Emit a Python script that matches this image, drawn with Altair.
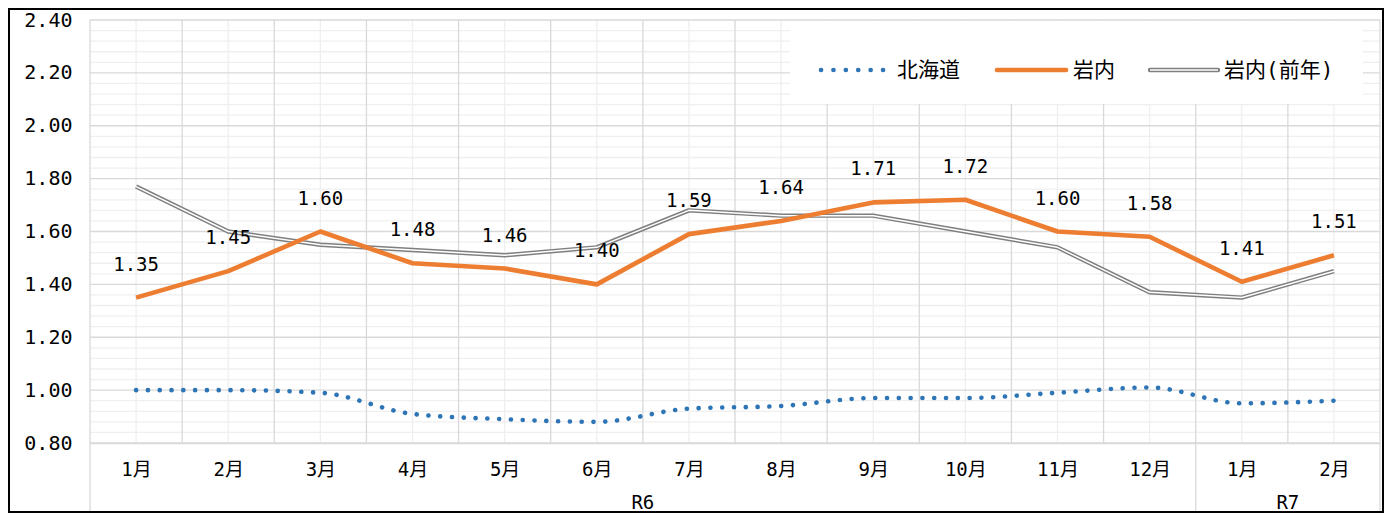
import altair as alt
import pandas as pd

# ---------------- data ----------------
months = ["1月", "2月", "3月", "4月", "5月", "6月", "7月", "8月", "9月", "10月", "11月", "12月", "1月", "2月"]
periods = ["R6"] * 12 + ["R7"] * 2
hokkaido = [1.00, 1.00, 0.99, 0.91, 0.89, 0.88, 0.93, 0.94, 0.97, 0.97, 0.99, 1.01, 0.95, 0.96]
iwanai = [1.35, 1.45, 1.60, 1.48, 1.46, 1.40, 1.59, 1.64, 1.71, 1.72, 1.60, 1.58, 1.41, 1.51]
iwanai_prev = [1.77, 1.60, 1.55, 1.53, 1.51, 1.54, 1.68, 1.66, 1.66, 1.60, 1.54, 1.37, 1.35, 1.45]
series_names = ["北海道", "岩内", "岩内(前年)"]
y_ticks = [0.8, 1.0, 1.2, 1.4, 1.6, 1.8, 2.0, 2.2, 2.4]

# ---------------- layout / style ----------------
W, H = 1290, 423
FONT = "DejaVu Sans Mono, Noto Sans CJK JP"
BLUE, ORANGE, GRAY = "#2E75B6", "#ED7D31", "#7F7F7F"
MAJOR, MINOR = "#d9d9d9", "#efefef"

n = len(months)
df = pd.DataFrame({
    "idx": list(range(n)),
    "month": months,
    "period": periods,
    "hok": hokkaido,
    "iwa": iwanai,
    "prev": iwanai_prev,
})
df["pos"] = df["idx"] + 0.5

groups = df.groupby("period", sort=False).agg(center=("pos", "mean"),
                                               start=("idx", "min"),
                                               end=("idx", "max")).reset_index()
edges = sorted(set(groups["start"].tolist() + (groups["end"] + 1).tolist()))

xscale = alt.Scale(domain=[0, n], nice=False, zero=False)
yscale = alt.Scale(domain=[y_ticks[0], y_ticks[-1]], nice=False, zero=False)

label_expr = "[" + ",".join('"%s"' % m for m in months) + "][floor(datum.value)]"
xaxis = alt.Axis(values=df["pos"].tolist(), labelExpr=label_expr, domain=True,
                 domainColor=MAJOR, domainWidth=1.3, ticks=False, grid=False,
                 title=None, labelFont=FONT, labelFontSize=19, labelColor="black",
                 labelPadding=17, labelAngle=0, labelFlush=False, labelOverlap=False)
yaxis = alt.Axis(values=y_ticks, format=".2f", domain=False, ticks=False, grid=False,
                 title=None, labelFont=FONT, labelFontSize=20, labelColor="black",
                 labelPadding=18)


def X(field):
    return alt.X(field, scale=xscale, axis=xaxis)


def Y(field):
    return alt.Y(field, scale=yscale, axis=yaxis)


# ---------------- grid ----------------
minor_vals = [round(y_ticks[0] + 0.04 * k, 2) for k in range(int(round((y_ticks[-1] - y_ticks[0]) / 0.04)) + 1)]
minor_vals = [v for v in minor_vals if v not in y_ticks]
minor_h = alt.Chart(pd.DataFrame({"v": minor_vals})).mark_rule(color=MINOR, strokeWidth=1.3).encode(
    y=Y("v:Q"))
minor_v = alt.Chart(df).mark_rule(color=MINOR, strokeWidth=1.3).encode(x=X("pos:Q"))
major_h = alt.Chart(pd.DataFrame({"v": y_ticks})).mark_rule(color=MAJOR, strokeWidth=1.3).encode(
    y=Y("v:Q"))
major_v = alt.Chart(pd.DataFrame({"b": list(range(n + 1))})).mark_rule(color=MAJOR, strokeWidth=1.3).encode(
    x=X("b:Q"))
sep = alt.Chart(pd.DataFrame({"b": edges})).mark_rule(color=MAJOR, strokeWidth=1.3).encode(
    x=X("b:Q"), y=alt.value(H), y2=alt.value(H + 68))

# ---------------- series ----------------
base = alt.Chart(df)
hok_line = base.mark_line(color=BLUE, strokeWidth=4.6, strokeDash=[0.1, 11.7], strokeCap="round",
                          interpolate="monotone").encode(x=X("pos:Q"), y=Y("hok:Q"))
prev_outer = base.mark_line(color=GRAY, strokeWidth=4.4, strokeJoin="round").encode(
    x=X("pos:Q"), y=Y("prev:Q"))
prev_inner = base.mark_line(color="white", strokeWidth=1.5, strokeJoin="round").encode(
    x=X("pos:Q"), y=Y("prev:Q"))
iwa_line = base.mark_line(color=ORANGE, strokeWidth=4.6, strokeJoin="round").encode(
    x=X("pos:Q"), y=Y("iwa:Q"))
iwa_labels = base.mark_text(dy=-33, fontSize=19, font=FONT, color="black", baseline="middle").encode(
    x=X("pos:Q"), y=Y("iwa:Q"), text=alt.Text("iwa:Q", format=".2f"))

group_labels = alt.Chart(groups).mark_text(fontSize=19, font=FONT, color="black", baseline="middle").encode(
    x=X("center:Q"), y=alt.value(H + 60), text="period:N")

# ---------------- legend ----------------
one = pd.DataFrame({"k": [0]})
LY = 50
leg_bg = alt.Chart(one).mark_rect(fill="white").encode(
    x=alt.value(700), x2=alt.value(1273), y=alt.value(1), y2=alt.value(84))
leg_hok = alt.Chart(one).mark_rule(color=BLUE, strokeWidth=4.6, strokeDash=[0.1, 12.3], strokeCap="round").encode(
    x=alt.value(731), x2=alt.value(795), y=alt.value(LY))
leg_iwa = alt.Chart(one).mark_rule(color=ORANGE, strokeWidth=4.6, strokeCap="round").encode(
    x=alt.value(907), x2=alt.value(976), y=alt.value(LY))
leg_prev_o = alt.Chart(one).mark_rule(color=GRAY, strokeWidth=4.4, strokeCap="round").encode(
    x=alt.value(1060), x2=alt.value(1128), y=alt.value(LY))
leg_prev_i = alt.Chart(one).mark_rule(color="white", strokeWidth=1.5).encode(
    x=alt.value(1060), x2=alt.value(1128), y=alt.value(LY))
leg_text = []
for name, lx in zip(series_names, [807, 983, 1134]):
    leg_text.append(alt.Chart(pd.DataFrame({"name": [name]})).mark_text(
        align="left", baseline="middle", fontSize=21, font=FONT, color="black").encode(
        x=alt.value(lx), y=alt.value(LY + 1), text="name:N"))

frame = alt.Chart(one).mark_rect(fill="transparent", stroke="black", strokeWidth=2).encode(
    x=alt.value(-81), x2=alt.value(W + 3), y=alt.value(-11), y2=alt.value(H + 69))

chart = alt.layer(
    minor_h, minor_v, major_h, major_v, sep,
    hok_line, prev_outer, prev_inner, iwa_line, iwa_labels, group_labels,
    leg_bg, leg_hok, leg_iwa, leg_prev_o, leg_prev_i, *leg_text, frame
).properties(
    width=W, height=H,
    autosize=alt.AutoSizeParams(type="none"),
    padding={"left": 82, "top": 12, "right": 4, "bottom": 70},
    background="white",
).configure_view(stroke=None)

chart.save("out.html", embed_options={"renderer": "svg", "actions": False})
